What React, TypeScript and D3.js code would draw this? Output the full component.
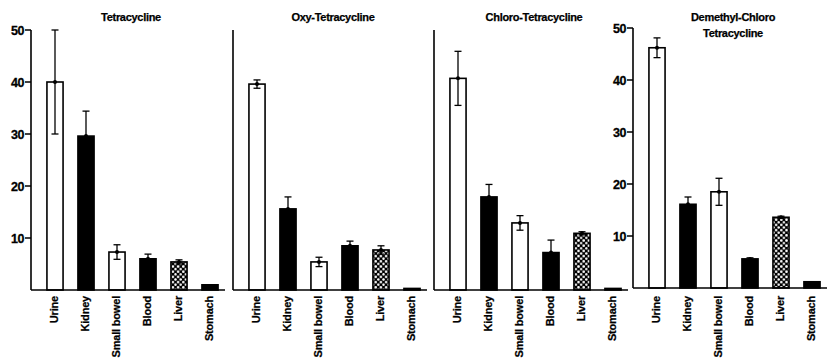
import React from "react";
import * as d3 from "d3";

const categories = ["Urine", "Kidney", "Small bowel", "Blood", "Liver", "Stomach"];
const panelTitles = [["Tetracycline"], ["Oxy-Tetracycline"], ["Chloro-Tetracycline"], ["Demethyl-Chloro", "Tetracycline"]];
const tetraValues = [40, 29.6, 7.3, 6.0, 5.4, 1.0];
const tetraErr = [10, 4.8, 1.4, 0.9, 0.4, 0];
const oxyValues = [39.6, 15.6, 5.4, 8.5, 7.7, 0.3];
const oxyErr = [0.8, 2.3, 0.9, 0.9, 0.8, 0];
const chloroValues = [40.7, 17.9, 12.9, 7.2, 10.9, 0.3];
const chloroErr = [5.2, 2.4, 1.4, 2.4, 0.3, 0];
const demethylValues = [46.2, 16.1, 18.5, 5.6, 13.6, 1.2];
const demethylErr = [1.9, 1.4, 2.6, 0.2, 0.2, 0];
const yTicks = [10, 20, 30, 40, 50];

const series = [
  { values: tetraValues, err: tetraErr },
  { values: oxyValues, err: oxyErr },
  { values: chloroValues, err: chloroErr },
  { values: demethylValues, err: demethylErr },
];

// layout (not data)
const axisX = [31, 233, 434, 633];
const baseY = [290, 290, 290, 288];
const showTicks = [true, false, false, true];
const fillKind = ["white", "black", "white", "black", "pattern", "black"];
const FONT = "'Liberation Sans', Arial, sans-serif";

export default function App() {
  return (
    <svg width={829} height={364} style={{ position: "absolute", left: 0, top: 0, background: "white" }}
      fontFamily={FONT}>
      <defs>
        <pattern id="dots" patternUnits="userSpaceOnUse" width={5.2} height={5.2}>
          <rect width={5.2} height={5.2} fill="black" />
          <circle cx={1.3} cy={1.3} r={1.3} fill="white" />
          <circle cx={3.9} cy={3.9} r={1.3} fill="white" />
        </pattern>
      </defs>
      {series.map((s, p) => {
        const ax = axisX[p];
        const b = baseY[p];
        const y = d3.scaleLinear().domain([0, 50]).range([b, b - 260]);
        const x = d3.scaleBand<string>().domain(categories)
          .range([ax + 8.5, ax + 194.5]).paddingInner(0.48).paddingOuter(0.24);
        const bw = x.bandwidth();
        const titles = panelTitles[p];
        const cxTitle = ax + 100;
        return (
          <g key={p}>
            {titles.map((t, i) => (
              <text key={i} x={cxTitle} y={(p === 3 ? 21 : 21) + i * 16} textAnchor="middle"
                fontSize={11} fontWeight="bold" letterSpacing={-0.3} stroke="black" strokeWidth={0.25}>{t}</text>
            ))}
            {/* bars */}
            {categories.map((c, i) => {
              const v = s.values[i];
              const x0 = x(c)!;
              const top = y(v);
              const kind = fillKind[i];
              const fill = kind === "white" ? "white" : kind === "black" ? "black" : "url(#dots)";
              return (
                <rect key={c} x={x0} y={top} width={bw} height={b - top}
                  fill={fill} stroke="black" strokeWidth={1.6} />
              );
            })}
            {/* error bars */}
            {categories.map((c, i) => {
              const e = s.err[i];
              if (!e) return null;
              const v = s.values[i];
              const cx = x(c)! + bw / 2;
              const y1 = y(v + e);
              const y2 = y(Math.max(0, v - e));
              return (
                <g key={"e" + c} stroke="black" strokeWidth={1.3}>
                  <line x1={cx} x2={cx} y1={y1} y2={y2} />
                  <line x1={cx - 3.5} x2={cx + 3.5} y1={y1} y2={y1} />
                  <line x1={cx - 3.5} x2={cx + 3.5} y1={y2} y2={y2} />
                  <circle cx={cx} cy={y(v)} r={2} fill="black" stroke="none" />
                </g>
              );
            })}
            {/* axes */}
            <line x1={ax} x2={ax} y1={y(50)} y2={b} stroke="black" strokeWidth={1.6} />
            <line x1={ax} x2={ax + 194} y1={b} y2={b} stroke="black" strokeWidth={1.6} />
            {showTicks[p] && yTicks.map((t) => (
              <g key={t}>
                <line x1={ax - 6} x2={ax} y1={y(t)} y2={y(t)} stroke="black" strokeWidth={1.5} />
                <text x={ax - 7} y={y(t)} dy="0.36em" textAnchor="end" fontSize={12.5} fontWeight="bold"
                  letterSpacing={-0.4} stroke="black" strokeWidth={0.3}>{t}</text>
              </g>
            ))}
            {/* category labels */}
            {categories.map((c) => {
              const cx = x(c)! + bw / 2 - 1;
              return (
                <text key={"l" + c} transform={`translate(${cx},296) rotate(-90)`} dy="0.35em"
                  textAnchor="end" fontSize={11} fontWeight="bold" letterSpacing={-0.2}
                  stroke="black" strokeWidth={0.25}>{c}</text>
              );
            })}
          </g>
        );
      })}
    </svg>
  );
}
